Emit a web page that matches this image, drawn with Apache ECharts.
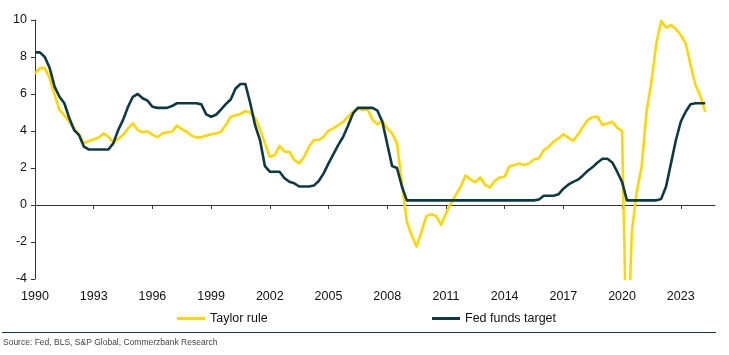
<!DOCTYPE html>
<html>
<head>
<meta charset="utf-8">
<script src="https://cdn.jsdelivr.net/npm/echarts@6/dist/echarts.min.js"></script>
<style>
html,body{margin:0;padding:0;background:#fff;}
#c{width:729px;height:355px;}
</style>
</head>
<body>
<div id="c"></div>
<script>
// Quarterly, 1990Q1 .. 2024Q2 (138 quarters); axis spans to 2024Q4
const firstYear = 1990;
const lastAxisYear = 2024;
const taylorRule = [
  7.1, 7.4, 7.4, 6.85,   5.95, 5.15, 4.85, 4.5,   4.15, 3.8, 3.35, 3.45,
  3.55, 3.64, 3.87, 3.69,   3.39, 3.57, 3.78, 4.14,   4.41, 4.05, 3.93, 3.99,
  3.8, 3.66, 3.87, 3.93,   3.96, 4.29, 4.1, 3.96,   3.75, 3.64, 3.68, 3.75,
  3.82, 3.87, 3.96, 4.32,   4.77, 4.85, 4.92, 5.08,   5.0, 4.7, 4.1, 3.33,
  2.61, 2.7, 3.2, 2.88,   2.88, 2.43, 2.25, 2.61,   3.15, 3.51, 3.51, 3.69,
  4.02, 4.14, 4.32, 4.5,   4.77, 5.04, 5.22, 5.14,   5.17, 4.6, 4.36, 4.56,
  4.14, 3.87, 3.33, 1.2,   -0.9, -1.65, -2.25, -1.44,   -0.6, -0.5, -0.6, -1.08,
  -0.45, 0.09, 0.54, 0.99,   1.59, 1.39, 1.22, 1.49,   1.08, 0.95, 1.31, 1.49,
  1.53, 2.1, 2.16, 2.25,   2.16, 2.25, 2.47, 2.52,   2.97, 3.15, 3.42, 3.6,
  3.82, 3.64, 3.46, 3.82,   4.23, 4.6, 4.75, 4.77,   4.32, 4.41, 4.5, 4.18,
  4.0, -9.0, -1.44, 0.72,   2.07, 5.04, 6.66, 8.74,   9.95, 9.59, 9.73, 9.51,
  9.19, 8.74, 7.57, 6.49,   5.9, 5.04
];
const fedFundsTarget = [
  8.25, 8.25, 8.0, 7.4,   6.4, 5.85, 5.5, 4.7,   4.05, 3.78, 3.15, 3.0,
  3.0, 3.0, 3.0, 3.0,   3.33, 4.05, 4.6, 5.3,   5.85, 6.0, 5.77, 5.64,
  5.31, 5.25, 5.25, 5.25,   5.35, 5.5, 5.5, 5.5,   5.5, 5.5, 5.44, 4.9,
  4.77, 4.88, 5.15, 5.45,   5.7, 6.3, 6.54, 6.54,   5.5, 4.3, 3.5, 2.1,
  1.8, 1.8, 1.8, 1.45,   1.26, 1.17, 1.0, 1.0,   1.0, 1.05, 1.3, 1.71,
  2.25, 2.75, 3.25, 3.69,   4.3, 4.95, 5.25, 5.25,   5.25, 5.25, 5.1, 4.5,
  3.3, 2.1, 2.0, 1.0,   0.25, 0.25, 0.25, 0.25,   0.25, 0.25, 0.25, 0.25,
  0.25, 0.25, 0.25, 0.25,   0.25, 0.25, 0.25, 0.25,   0.25, 0.25, 0.25, 0.25,
  0.25, 0.25, 0.25, 0.25,   0.25, 0.25, 0.25, 0.3,   0.5, 0.5, 0.5, 0.58,
  0.88, 1.1, 1.25, 1.37,   1.6, 1.85, 2.05, 2.3,   2.5, 2.5, 2.3, 1.8,
  1.25, 0.25, 0.25, 0.25,   0.25, 0.25, 0.25, 0.25,   0.33, 1.0, 2.25, 3.5,
  4.5, 5.04, 5.45, 5.5,   5.5, 5.5
];
const yMin = -4, yMax = 10, yStep = 2;
const seriesNames = ['Taylor rule', 'Fed funds target'];
const sourceText = 'Source: Fed, BLS, S&P Global, Commerzbank Research';

const quarters = [];
for (let y = firstYear; y <= lastAxisYear; y++) {
  for (let q = 1; q <= 4; q++) quarters.push(y + 'Q' + q);
}

const YELLOW = '#FFD700';
const DARK = '#0D3A42';
const FONT = '"Liberation Sans", Arial, sans-serif';

const chart = echarts.init(document.getElementById('c'), null, {renderer: 'canvas'});
chart.setOption({
  animation: false,
  backgroundColor: '#ffffff',
  grid: {left: 35, right: 14, top: 20, bottom: 76, containLabel: false},
  legend: [
    {data: [seriesNames[0]], left: 172, top: 307, itemWidth: 28, itemHeight: 3, icon: 'rect',
     textStyle: {fontFamily: FONT, fontSize: 12.5, color: '#111'}},
    {data: [seriesNames[1]], left: 427, top: 307, itemWidth: 28, itemHeight: 3, icon: 'rect',
     textStyle: {fontFamily: FONT, fontSize: 12.5, color: '#111'}}
  ],
  xAxis: [
    {
      type: 'category', data: quarters, boundaryGap: false, position: 'bottom',
      axisLine: {show: false, onZero: false}, axisTick: {show: false},
      axisLabel: {interval: 11, margin: 11, fontFamily: FONT, fontSize: 12.5, color: '#111',
        formatter: v => v.slice(0, 4)},
      splitLine: {show: false}
    },
    {
      type: 'category', data: quarters, boundaryGap: false, position: 'bottom',
      axisLine: {show: true, onZero: true, lineStyle: {color: '#333', width: 1}},
      axisTick: {show: true, interval: 11, length: 4, inside: false, lineStyle: {color: '#333'}},
      axisLabel: {show: false},
      splitLine: {show: false}
    }
  ],
  yAxis: {
    type: 'value', min: yMin, max: yMax, interval: yStep,
    axisLine: {show: true, lineStyle: {color: '#333', width: 1}},
    axisTick: {show: true, length: 4, lineStyle: {color: '#333'}},
    axisLabel: {margin: 8, fontFamily: FONT, fontSize: 12.5, color: '#111'},
    splitLine: {show: false}
  },
  series: [
    {name: seriesNames[0], type: 'line', xAxisIndex: 0, data: taylorRule, symbol: 'none',
     color: YELLOW, clip: true, lineStyle: {color: YELLOW, width: 2.6, join: 'round'}, z: 2},
    {name: seriesNames[1], type: 'line', xAxisIndex: 0, data: fedFundsTarget, symbol: 'none',
     color: DARK, clip: true, lineStyle: {color: DARK, width: 2.6, join: 'round'}, z: 3}
  ],
  graphic: [
    {type: 'line', shape: {x1: 2, y1: 332.5, x2: 716, y2: 332.5},
     style: {stroke: DARK, lineWidth: 1}},
    {type: 'text', left: 3, top: 338.5,
     style: {text: sourceText, fontFamily: FONT, fontSize: 8.5, fill: '#444'}}
  ]
});
</script>
</body>
</html>
